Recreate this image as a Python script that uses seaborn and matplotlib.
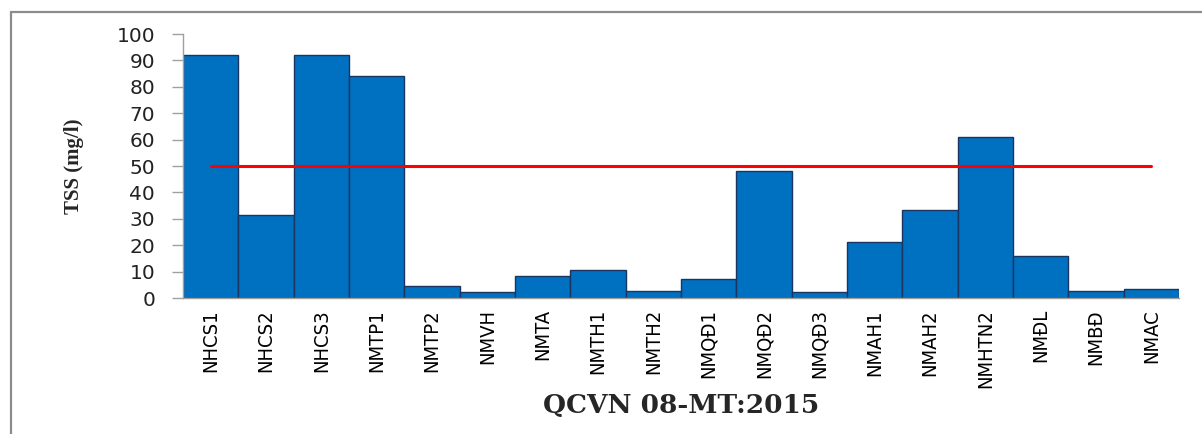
import seaborn as sns
import pandas as pd
import matplotlib.pyplot as plt
from matplotlib.patches import Rectangle

# sampling sites and TSS values (mg/l)
sites = ['NHCS1', 'NHCS2', 'NHCS3', 'NMTP1', 'NMTP2', 'NMVH', 'NMTA', 'NMTH1', 'NMTH2',
         'NMQĐ1', 'NMQĐ2', 'NMQĐ3', 'NMAH1', 'NMAH2', 'NMHTN2', 'NMĐL', 'NMBĐ', 'NMAC']
tss = [92, 31.3, 92, 84, 4.4, 2.1, 8.4, 10.5, 2.8,
       7.2, 48, 2.1, 21.4, 33.4, 61.1, 16, 2.8, 3.5]
# QCVN 08-MT:2015 limit
qcvn_limit = 50
yticks = [0, 10, 20, 30, 40, 50, 60, 70, 80, 90, 100]

df = pd.DataFrame({'site': sites, 'tss': tss})

sns.set_style('ticks')

fig = plt.figure(figsize=(12.02, 4.34), dpi=100)
ax = fig.add_axes([183/1202, 136/434, 996/1202, 264/434])

sns.barplot(data=df, x='site', y='tss', color='#0070C0', saturation=1, width=1.0,
            edgecolor='#1A3560', linewidth=1, ax=ax)
ax.plot(sites, [qcvn_limit] * len(sites), color='#FF0000', lw=2.2)

ax.set_xlim(-0.5, len(sites) - 0.5)
ax.set_ylim(0, 100)
ax.set_yticks(yticks)
ax.set_yticklabels([str(t) for t in yticks], fontsize=14.5, family='DejaVu Sans', color='#222222')
ax.tick_params(axis='y', length=8, width=1, color='#A0A0A0', pad=12)
ax.tick_params(axis='x', length=0, pad=8)
for lab in ax.get_xticklabels():
    lab.set_rotation(90)
    lab.set_fontsize(14.5)
    lab.set_family('DejaVu Sans')
    lab.set_fontstretch('condensed')
    lab.set_color('black')

sns.despine(ax=ax)
for s in ['left', 'bottom']:
    ax.spines[s].set_color('#A0A0A0')
    ax.spines[s].set_linewidth(1)

ax.set_ylabel('TSS (mg/l)', fontsize=15, fontweight='bold', family='Liberation Serif')
ax.yaxis.set_label_coords(-0.099, 0.5)
ax.set_xlabel('QCVN 08-MT:2015', fontsize=19, fontweight='bold', family='DejaVu Serif')
ax.xaxis.set_label_coords(0.5, -0.36)

# gray frame around the chart
fig.patches.append(Rectangle((11/1202, -0.2), 2, 1.2 - 12/434, transform=fig.transFigure,
                             fill=False, edgecolor='#8C8C8C', lw=1.6))

plt.savefig('out.png', dpi=100)
